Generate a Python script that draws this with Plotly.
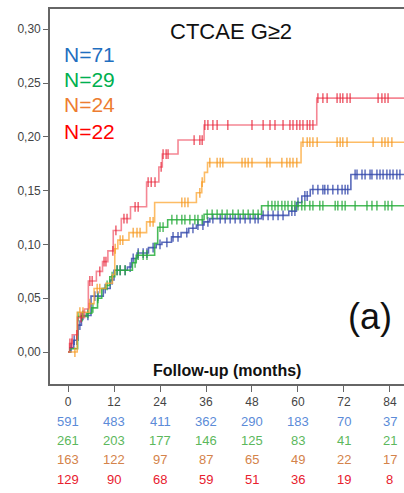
import numpy as np
import plotly.graph_objects as go

FONT = "Liberation Sans, Arial, sans-serif"

# ---- data (cumulative incidence step functions, months) ----
blue_t = [0, 0.5, 1.5, 2.6, 3.5, 6.0, 9.2, 11.0, 12.0, 15.5, 16.6, 18.0, 21.0, 23.0, 24.5, 27.0,
          29.5, 31.5, 33.5, 35.5, 37.0, 50.5, 57.6, 59.6, 61.0, 63.2, 73.8]
blue_v = [0, 0.004, 0.011, 0.025, 0.034, 0.052, 0.059, 0.067, 0.076, 0.079, 0.087, 0.092, 0.097, 0.100,
          0.102, 0.107, 0.111, 0.115, 0.118, 0.121, 0.124, 0.127, 0.131, 0.139, 0.145, 0.151, 0.165]
blue_c = [0.8, 1.6, 2.3, 3.1, 3.9, 5.2, 7.0, 7.8, 9.7, 11.5, 12.8, 13.6, 14.9, 16.2, 17.0, 18.3, 19.6,
          20.6, 22.2, 24.0, 25.8, 27.4, 28.7, 31.0, 32.6, 33.9, 35.2, 36.5, 37.8, 39.7, 41.0, 42.3, 43.6,
          44.9, 46.2, 47.5, 48.8, 49.6, 50.9, 52.2, 53.5, 54.8, 56.1, 58.4, 59.2, 60.0, 61.8, 62.4, 63.9,
          65.2, 66.5, 67.0, 67.8, 69.1, 70.4, 71.5, 72.3, 73.0, 74.9, 75.4, 76.7, 77.5, 78.8, 79.3, 80.6,
          81.4, 82.2, 83.2, 84.0, 84.8, 85.8, 86.6]

green_t = [0, 0.5, 2.5, 4.8, 6.2, 7.7, 8.8, 9.8, 10.9, 12.2, 16.8, 17.8, 22.6, 23.4, 26.0, 35.5, 50.5]
green_v = [0, 0.003, 0.033, 0.036, 0.041, 0.050, 0.059, 0.062, 0.070, 0.076, 0.083, 0.090, 0.101,
           0.116, 0.123, 0.128, 0.136]
green_c = [2.6, 3.7, 5.2, 6.5, 7.8, 10.2, 11.5, 12.8, 13.6, 14.9, 17.5, 18.3, 19.6, 20.6, 24.0, 24.8,
           27.1, 28.4, 29.7, 30.5, 31.8, 33.1, 33.9, 35.0, 36.3, 37.6, 38.9, 40.2, 41.5, 43.0, 44.4, 45.7,
           47.0, 48.3, 49.6, 52.2, 53.2, 54.0, 54.8, 55.8, 56.6, 57.4, 58.4, 59.2, 60.0, 61.0, 61.8, 63.1,
           63.9, 65.7, 66.5, 69.7, 70.4, 71.5, 72.3, 74.9, 78.0, 79.3, 80.6, 82.7, 83.5, 84.5]

orange_t = [0, 2.4, 5.5, 6.8, 9.9, 11.6, 12.2, 13.0, 15.9, 20.5, 22.6, 33.5, 34.9, 35.6, 36.4, 60.8]
orange_v = [0, 0.037, 0.045, 0.059, 0.064, 0.072, 0.096, 0.104, 0.111, 0.121, 0.139, 0.148, 0.158,
            0.167, 0.176, 0.195]
orange_c = [1.8, 3.1, 3.9, 5.7, 7.6, 8.3, 12.3, 13.6, 14.3, 17.0, 18.0, 18.8, 21.4, 22.2, 29.7, 30.5,
            31.3, 34.4, 35.0, 37.0, 38.9, 39.7, 40.4, 45.4, 46.2, 47.0, 48.0, 51.9, 52.7, 55.8, 57.1,
            57.9, 58.7, 59.7, 61.3, 62.4, 63.1, 63.9, 65.0, 70.2, 71.0, 71.7, 72.8, 79.6, 81.9, 82.7,
            83.5, 84.5]

red_t = [0, 0.4, 1.1, 2.5, 4.3, 5.3, 7.4, 9.0, 10.4, 11.8, 13.9, 16.3, 20.5, 23.7, 24.6, 28.7, 35.5, 64.9]
red_v = [0, 0.008, 0.016, 0.032, 0.040, 0.066, 0.075, 0.084, 0.094, 0.113, 0.124, 0.135, 0.158,
         0.172, 0.184, 0.197, 0.211, 0.236]
red_c = [0.5, 1.0, 2.3, 3.4, 5.7, 6.3, 8.3, 9.4, 9.9, 11.7, 12.5, 14.6, 15.4, 17.5, 18.3, 20.9, 21.7,
         22.7, 24.3, 24.8, 25.6, 26.1, 32.9, 34.4, 35.0, 35.7, 36.5, 37.8, 38.9, 41.7, 48.0, 50.9,
         52.7, 54.0, 56.1, 57.9, 58.7, 59.7, 60.5, 61.3, 62.4, 63.1, 63.9, 65.2, 66.5, 67.6, 70.2,
         71.0, 71.7, 72.8, 73.6, 80.9, 81.9, 82.7, 83.5]

group_labels = ["N=71", "N=29", "N=24", "N=22"]
title_text = "CTCAE G≥2"
panel_label = "(a)"
x_title = "Follow-up (months)"

x_ticks = [0, 12, 24, 36, 48, 60, 72, 84]
y_ticks = [0.00, 0.05, 0.10, 0.15, 0.20, 0.25, 0.30]
y_ticktext = ["0,00", "0,05", "0,10", "0,15", "0,20", "0,25", "0,30"]

risk_blue = [591, 483, 411, 362, 290, 183, 70, 37]
risk_green = [261, 203, 177, 146, 125, 83, 41, 21]
risk_orange = [163, 122, 97, 87, 65, 49, 22, 17]
risk_red = [129, 90, 68, 59, 51, 36, 19, 8]

END_T = 88.0

series = [
    (blue_t, blue_v, blue_c, "rgba(60,80,175,0.85)", "rgba(50,70,170,0.9)"),
    (green_t, green_v, green_c, "rgba(40,175,60,0.85)", "rgba(40,170,60,0.9)"),
    (orange_t, orange_v, orange_c, "rgba(252,165,50,0.75)", "rgba(245,150,30,0.85)"),
    (red_t, red_v, red_c, "rgba(240,70,90,0.65)", "rgba(230,30,50,0.8)"),
]

fig = go.Figure()
for t, v, c, lc, mc in series:
    xs = list(t) + [END_T]
    ys = list(v) + [v[-1]]
    fig.add_trace(go.Scatter(x=xs, y=ys, mode="lines", line=dict(color=lc, width=1.6, shape="hv"),
                             hoverinfo="skip", showlegend=False))
    tt = np.array(t)
    vv = np.array(v)
    idx = np.searchsorted(tt, np.array(c), side="right") - 1
    fig.add_trace(go.Scatter(x=c, y=vv[idx], mode="markers",
                             marker=dict(symbol="line-ns-open", size=7, color=mc,
                                         line=dict(color=mc, width=1.3)),
                             hoverinfo="skip", showlegend=False))

# plot area in pixels: left 50, right 404, top 9, bottom 384
annotations = []
label_colors = ["#1f6fc0", "#00b050", "#ed7d31", "#ff0000"]
label_y = [0.88, 0.813, 0.745, 0.673]
for txt, col, yy in zip(group_labels, label_colors, label_y):
    annotations.append(dict(text=txt, x=0.034, y=yy, xref="paper", yref="paper", xanchor="left",
                            yanchor="middle", showarrow=False, font=dict(family=FONT, size=21, color=col)))
annotations.append(dict(text=title_text, x=0.51, y=0.941, xref="paper", yref="paper", xanchor="center",
                        yanchor="middle", showarrow=False, font=dict(family=FONT, size=22, color="#111")))
annotations.append(dict(text=panel_label, x=0.904, y=0.181, xref="paper", yref="paper", xanchor="center",
                        yanchor="middle", showarrow=False, font=dict(family=FONT, size=36, color="#111")))
annotations.append(dict(text="<b>" + x_title + "</b>", x=0.50, y=0.037, xref="paper", yref="paper",
                        xanchor="center", yanchor="middle", showarrow=False,
                        font=dict(family=FONT, size=16, color="#111")))

risk_rows = [(risk_blue, "#5b8bd8", 421), (risk_green, "#5cb85c", 441),
             (risk_orange, "#d4834a", 460), (risk_red, "#e8202e", 479)]
for vals, col, py in risk_rows:
    yy = (384 - py) / 375.0
    for xv, n in zip(x_ticks, vals):
        annotations.append(dict(text=str(n), x=xv, y=yy, xref="x", yref="paper", xanchor="center",
                                yanchor="middle", showarrow=False,
                                font=dict(family=FONT, size=13, color=col)))

fig.update_layout(
    width=404, height=493,
    margin=dict(l=50, r=0, t=9, b=109),
    paper_bgcolor="white", plot_bgcolor="white",
    annotations=annotations,
    xaxis=dict(range=[-4.70, 87.66], tickvals=x_ticks, ticktext=[str(x) for x in x_ticks],
               ticks="outside", ticklen=6, tickwidth=1.2, tickcolor="#666",
               showline=True, linecolor="#666", linewidth=1.6, mirror=True,
               showgrid=False, zeroline=False,
               tickfont=dict(family=FONT, size=12, color="#444")),
    yaxis=dict(range=[-0.0297, 0.3188], tickvals=y_ticks, ticktext=y_ticktext,
               ticks="outside", ticklen=5, tickwidth=1.2, tickcolor="#666",
               showline=True, linecolor="#666", linewidth=1.6, mirror=False,
               showgrid=False, zeroline=False,
               tickfont=dict(family=FONT, size=12, color="#444")),
)

fig.write_html("out.html")
